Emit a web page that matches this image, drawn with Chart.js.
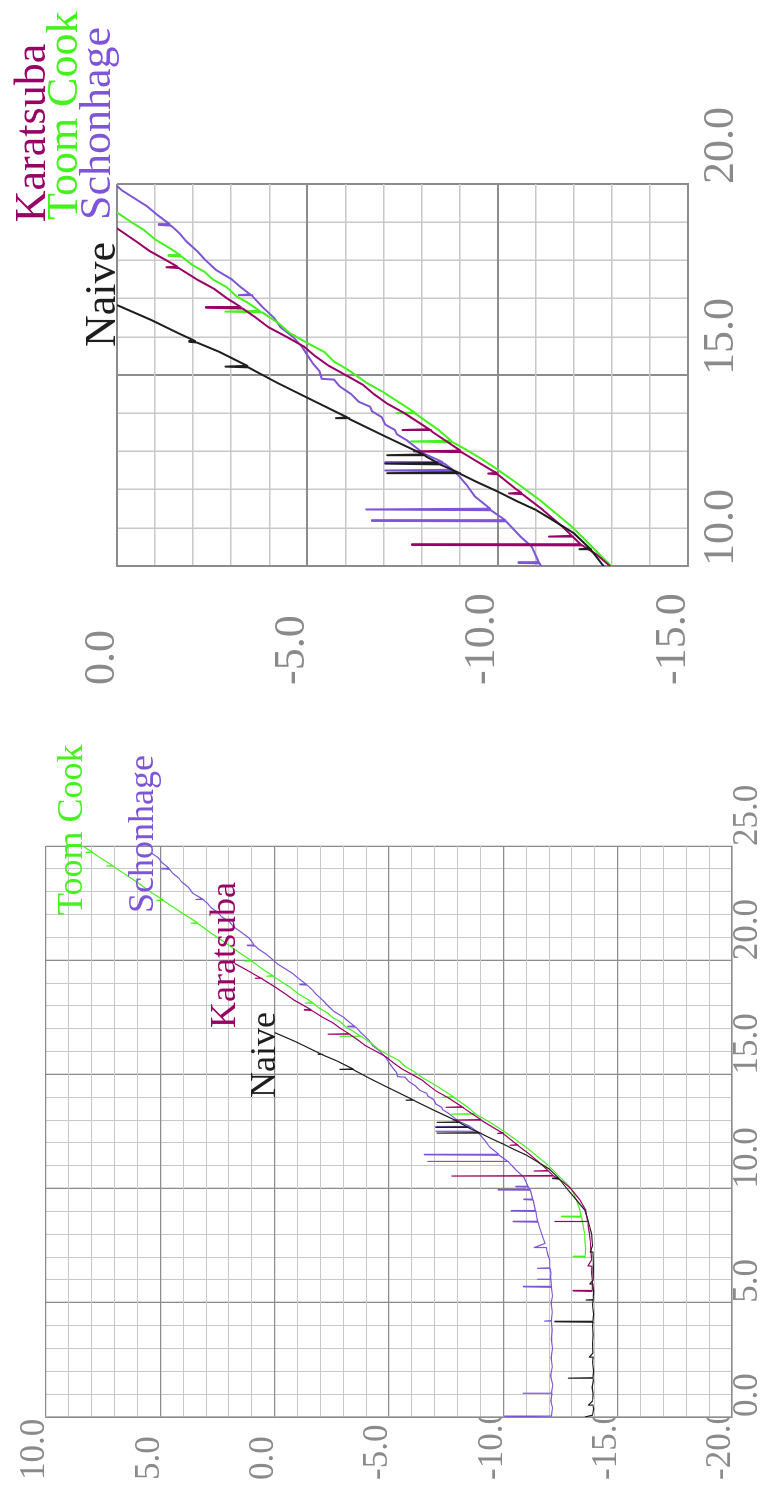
<!DOCTYPE html>
<html>
<head>
<meta charset="utf-8">
<script src="https://cdn.jsdelivr.net/npm/chart.js@4.4.1/dist/chart.umd.min.js"></script>
<style>
  html, body { margin: 0; padding: 0; background: #fff; overflow: hidden; }
  body { width: 770px; height: 1488px; position: relative; }
  /* the whole figure is drawn landscape and turned a quarter left */
  #stage { position: absolute; left: 0; top: 0; width: 1488px; height: 770px;
           transform-origin: 0 0; transform: translate(0, 1488px) rotate(-90deg); }
  #stage canvas { position: absolute; top: 0; }
  #full { left: 0; }
  #zoom { left: 780px; }
</style>
</head>
<body>
<div id="stage">
  <canvas id="full" width="780" height="770"></canvas>
  <canvas id="zoom" width="708" height="770"></canvas>
</div>
<script>
const seriesNames = ["Naive", "Karatsuba", "Toom Cook", "Schonhage"];
const seriesColors = ["#1e1e1e", "#990066", "#44f21c", "#7e54d8"];

// x = log2 size, y = log2 time
const naiveX = [0, 0.08, 0.35, 0.5, 0.52, 0.7, 1.0, 1.3, 1.6, 1.69, 1.7, 1.72, 2.0, 2.4, 2.6, 2.62, 2.8, 3.2, 3.6, 4.0,
  4.15, 4.17, 4.19, 4.5, 4.9, 5.1, 5.12, 5.14, 5.5, 5.8, 5.82, 6.0, 6.5, 7.0, 7.2, 7.22, 7.5, 8.0, 8.33, 8.7,
  9.06, 9.5, 10.0, 10.42, 10.44, 10.46, 10.86, 11.2, 11.47, 11.7, 11.95, 12.2, 12.41, 12.43, 12.45, 12.66, 12.68, 12.7, 12.88, 12.9,
  12.92, 13.39, 13.85, 13.87, 13.89, 14.43, 14.8, 15.2, 15.22, 15.24, 15.6, 15.85, 15.87, 15.89, 16.1, 16.44, 16.83];
const naiveY = [-13.57, -13.9, -13.95, -13.92, -13.72, -13.9, -13.93, -13.88, -13.94, -13.92, -12.84, -13.92, -13.95, -13.9, -13.93, -13.76, -13.92, -13.9, -13.93, -13.9,
  -13.93, -12.25, -13.92, -13.95, -13.9, -13.93, -13.62, -13.93, -13.95, -13.92, -13.78, -13.93, -13.94, -13.93, -13.92, -13.8, -13.9, -13.86, -13.78, -13.68,
  -13.56, -13.2, -12.78, -12.45, -12.15, -12.42, -12.0, -11.45, -11.0, -10.5, -10.0, -9.45, -9.02, -7.1, -8.96, -8.48, -7.05, -8.42, -8.1, -7.1,
  -8.05, -7.05, -6.1, -5.75, -6.05, -4.95, -4.2, -3.45, -2.85, -3.42, -2.7, -2.1, -1.9, -2.05, -1.6, -0.9, 0.0];

const karX = [5.5, 5.52, 5.54, 5.9, 6.3, 6.6, 6.62, 6.87, 7.3, 7.7,
  8.04, 8.3, 8.54, 8.55, 8.57, 9.06, 9.5, 10.0, 10.3, 10.54,
  10.55, 10.57, 10.76, 10.77, 10.79, 11.03, 11.5, 11.88, 11.9, 11.92,
  12.0, 12.4, 12.42, 12.44, 12.5, 12.98, 13.0, 13.02, 13.5, 13.54,
  13.56, 13.58, 14.0, 14.25, 14.5, 14.75, 15.0, 15.25, 15.5, 15.75,
  16.0, 16.25, 16.5, 16.74, 16.76, 16.78, 17.0, 17.25, 17.5, 17.8,
  17.82, 17.84, 18.0, 18.25, 18.5, 18.84, 19.18, 19.2, 19.22, 19.5,
  19.86];
const karY = [-13.9, -13.05, -13.88, -13.9, -13.86, -13.87, -13.7, -13.86, -13.83, -13.8,
  -13.76, -13.72, -13.7, -12.25, -13.68, -13.6, -13.35, -12.95, -12.6, -12.22,
  -7.75, -12.18, -11.98, -11.35, -11.95, -11.7, -11.15, -10.65, -10.3, -10.62,
  -10.5, -10.0, -9.75, -9.97, -9.85, -9.05, -7.8, -9.02, -8.3, -8.25,
  -7.5, -8.2, -7.55, -7.1, -6.75, -6.45, -6.0, -5.55, -5.2, -4.9,
  -4.45, -3.98, -3.65, -3.3, -2.34, -3.25, -2.9, -2.56, -2.1, -1.62,
  -1.3, -1.58, -1.3, -0.85, -0.5, 0.0, 0.55, 0.85, 0.6, 1.1,
  1.75];

const toomX = [7.0, 7.02, 7.04, 7.4, 7.75, 8.05, 8.33, 8.75, 8.77, 8.79,
  9.06, 9.5, 10.0, 10.3, 10.68, 11.03, 11.4, 11.73, 12.1, 12.51,
  12.8, 13.04, 13.24, 13.26, 13.28, 13.56, 13.98, 14.0, 14.02, 14.56,
  14.8, 15.13, 15.35, 15.6, 15.85, 16.09, 16.35, 16.64, 16.66, 16.68,
  16.9, 17.05, 17.3, 17.5, 17.7, 17.88, 18.1, 18.12, 18.14, 18.3,
  18.55, 18.8, 19.0, 19.28, 19.3, 19.32, 19.6, 19.94, 19.96, 19.98,
  20.3, 20.74, 21.2, 21.6, 21.62, 21.64, 22.1, 22.6, 22.62, 22.64,
  23.0, 23.37, 23.8, 24.1, 24.12, 24.14, 24.5, 24.7, 24.72, 24.74,
  25.0, 25.2];
const toomY = [-13.6, -13.05, -13.58, -13.6, -13.57, -13.55, -13.5, -13.42, -12.55, -13.4,
  -13.35, -13.2, -12.98, -12.68, -12.3, -11.95, -11.5, -11.1, -10.6, -10.02,
  -9.58, -9.18, -8.82, -7.72, -8.78, -8.45, -7.85, -7.35, -7.82, -6.98,
  -6.55, -6.08, -5.7, -5.45, -4.98, -4.55, -4.25, -3.82, -2.85, -3.75,
  -3.42, -3.15, -2.88, -2.52, -2.3, -1.98, -1.7, -1.35, -1.66, -1.42,
  -1.0, -0.7, -0.38, 0.04, 0.35, 0.08, 0.52, 0.98, 1.3, 1.02,
  1.5, 2.12, 2.8, 3.35, 3.65, 3.38, 4.1, 4.85, 5.15, 4.88,
  5.45, 5.95, 6.6, 7.05, 7.35, 7.08, 7.65, 7.95, 8.25, 7.98,
  8.4, 8.7];

const schX = [0, 0.04, 0.4, 0.7, 1.01, 1.03, 1.05, 1.4, 1.8, 2.2,
  2.6, 3.0, 3.4, 3.8, 4.18, 4.2, 4.22, 4.6, 5.0, 5.3,
  5.68, 5.7, 5.72, 6.0, 6.02, 6.04, 6.3, 6.5, 6.51, 6.53,
  6.87, 7.1, 7.31, 7.4, 7.42, 7.6, 8.04, 8.3, 8.53, 8.55,
  8.57, 8.8, 9.0, 9.02, 9.04, 9.5, 9.52, 9.54, 9.93, 9.94,
  9.96, 10.07, 10.08, 10.1, 10.5, 10.77, 11.17, 11.18, 11.2, 11.46,
  11.48, 11.5, 11.82, 12.1, 12.34, 12.48, 12.5, 12.52, 12.68, 12.7,
  12.72, 12.95, 13.3, 13.45, 13.56, 13.7, 13.9, 14.05, 14.17, 14.3,
  14.5, 14.7, 14.88, 14.9, 15.1, 15.3, 15.52, 15.75, 16.0, 16.25,
  16.5, 16.8, 17.07, 17.09, 17.11, 17.3, 17.5, 17.75, 18.01, 18.25,
  18.5, 18.7, 18.91, 18.93, 18.95, 19.2, 19.41, 19.6, 19.84, 20.0,
  20.25, 20.5, 20.62, 20.64, 20.66, 20.74, 20.95, 21.18, 21.47, 21.7,
  21.9, 22.1, 22.3, 22.5, 22.64, 22.66, 22.68, 22.93, 23.2, 23.44,
  23.6, 23.8, 23.98, 24.0, 24.02, 24.3, 24.5, 24.68];
const schY = [-10.05, -12.1, -12.15, -12.08, -12.12, -10.86, -12.1, -12.16, -12.07, -12.14,
  -12.09, -12.15, -12.1, -12.13, -12.1, -11.8, -12.1, -12.14, -12.09, -12.15,
  -12.1, -10.87, -12.1, -12.08, -11.5, -12.06, -12.08, -12.05, -11.5, -12.03,
  -12.03, -11.95, -11.9, -11.88, -11.35, -11.82, -11.67, -11.58, -11.52, -10.43,
  -11.5, -11.45, -11.42, -10.35, -11.4, -11.3, -10.9, -11.28, -11.18, -9.77,
  -11.16, -11.1, -10.55, -11.08, -10.9, -10.6, -10.22, -6.7, -10.2, -9.82,
  -6.55, -9.8, -9.4, -9.2, -9.0, -8.85, -7.05, -8.82, -8.6, -7.05,
  -8.55, -8.05, -7.6, -7.35, -7.3, -7.05, -6.95, -6.7, -6.65, -6.35,
  -6.15, -5.85, -5.7, -5.38, -5.32, -5.15, -5.0, -4.85, -4.62, -4.3,
  -4.12, -3.8, -3.55, -3.2, -3.5, -3.25, -3.02, -2.6, -2.32, -2.1,
  -1.82, -1.65, -1.42, -1.1, -1.38, -1.05, -0.8, -0.5, -0.12, 0.06,
  0.35, 0.72, 0.85, 1.2, 0.9, 0.95, 1.1, 1.4, 1.8, 2.0,
  2.32, 2.5, 2.78, 2.95, 3.12, 3.45, 3.15, 3.58, 3.78, 4.08,
  4.2, 4.45, 4.6, 4.95, 4.62, 4.95, 5.1, 5.38];

const seriesX = [naiveX, karX, toomX, schX];
const seriesY = [naiveY, karY, toomY, schY];

// tick labels
const fullXLabels = [0, 5, 10, 15, 20, 25];
const fullYLabels = [10, 5, 0, -5, -10, -15, -20];
const zoomXLabels = [10, 15, 20];
const zoomYLabels = [0, -5, -10, -15];

// where the series names sit, in data units (start of text, baseline)
const fullNameAt = [[13.97, -0.01], [17.03, 1.74], [21.98, 8.43], [22.07, 5.32]];
const zoomNameAt = [[15.73, 0.05], [19.0, 1.89], [19.06, 1.05], [19.06, 0.18]];

const FONT = '"Liberation Serif", "Times New Roman", serif';
const MAJOR = "#8c8c8c";
const MINOR = "#c8c8c8";
const TICK = "#8a8a8a";

const namesPlugin = {
  id: "seriesNames",
  afterDatasetsDraw(chart, args, opts) {
    const { ctx, scales } = chart;
    ctx.save();
    ctx.font = opts.size + "px " + FONT;
    ctx.textAlign = "left";
    ctx.textBaseline = "alphabetic";
    chart.data.datasets.forEach((ds, i) => {
      const at = opts.at[i];
      ctx.fillStyle = ds.borderColor;
      ctx.fillText(ds.label, scales.x.getPixelForValue(at[0]), scales.y.getPixelForValue(at[1]));
    });
    ctx.restore();
  }
};

function makeChart(id, o) {
  const datasets = seriesNames.map((name, i) => ({
    label: name,
    data: seriesX[i].map((x, j) => ({ x: x, y: seriesY[i][j] })),
    borderColor: seriesColors[i],
    borderWidth: o.lineWidth,
    borderJoinStyle: "round",
    pointRadius: 0,
    tension: 0,
    fill: false
  }));

  const axis = (min, max, labels) => ({
    type: "linear",
    min: min,
    max: max,
    grid: {
      drawTicks: false,
      color: c => (c.tick && labels.includes(c.tick.value) ? MAJOR : MINOR),
      lineWidth: c => (c.tick && labels.includes(c.tick.value) ? o.majorWidth : o.minorWidth)
    },
    border: { color: MAJOR, width: o.borderWidth },
    ticks: {
      stepSize: 1,
      autoSkip: false,
      maxRotation: 0,
      minRotation: 0,
      color: TICK,
      font: { family: FONT, size: o.tickSize },
      callback: v => (labels.includes(v) ? v.toFixed(1) : "")
    }
  });

  const x = axis(o.xMin, o.xMax, o.xLabels);
  x.position = "bottom";
  x.ticks.align = "start";
  x.ticks.padding = o.xTickPad;
  x.afterFit = s => { s.height = o.xAxisHeight; };

  const y = axis(o.yMin, o.yMax, o.yLabels);
  y.position = "left";
  y.ticks.crossAlign = "far";
  y.ticks.labelOffset = o.yLabelOffset;
  y.afterFit = s => { s.width = o.yAxisWidth; };

  return new Chart(document.getElementById(id), {
    type: "line",
    data: { datasets: datasets },
    options: {
      responsive: false,
      animation: false,
      devicePixelRatio: 1,
      events: [],
      layout: { padding: o.pad },
      scales: { x: x, y: y },
      plugins: {
        legend: { display: false },
        tooltip: { enabled: false },
        seriesNames: { size: o.nameSize, at: o.nameAt }
      }
    },
    plugins: [namesPlugin]
  });
}

// full range chart (lower one on the page)
makeChart("full", {
  xMin: 0, xMax: 25, yMin: -20, yMax: 10,
  xLabels: fullXLabels, yLabels: fullYLabels,
  pad: { left: 8, top: 46, right: 138, bottom: 0 },
  yAxisWidth: 63, xAxisHeight: 38,
  tickSize: 35, xTickPad: -5, yLabelOffset: -11,
  nameSize: 36, nameAt: fullNameAt,
  lineWidth: 1.2, minorWidth: 1, majorWidth: 1.3, borderWidth: 1.5
});

// close-up chart (upper one on the page)
makeChart("zoom", {
  xMin: 10, xMax: 20, yMin: -15, yMax: 0,
  xLabels: zoomXLabels, yLabels: zoomYLabels,
  pad: { left: 23, top: 117, right: 184, bottom: 0 },
  yAxisWidth: 119, xAxisHeight: 82,
  tickSize: 44, xTickPad: 7, yLabelOffset: -15,
  nameSize: 44, nameAt: zoomNameAt,
  lineWidth: 2, minorWidth: 1.5, majorWidth: 2, borderWidth: 2
});
</script>
</body>
</html>
